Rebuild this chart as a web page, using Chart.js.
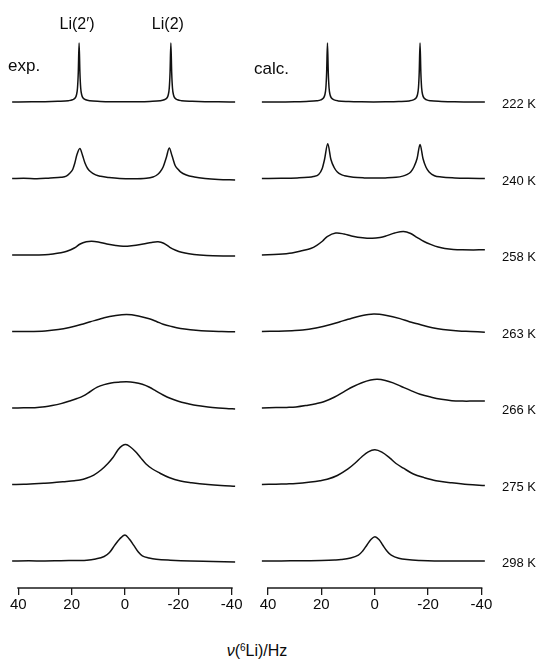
<!DOCTYPE html>
<html><head><meta charset="utf-8">
<script src="https://cdn.jsdelivr.net/npm/chart.js@4.4.0/dist/chart.umd.min.js"></script>
<style>
html,body{margin:0;padding:0;background:#fff;}
#wrap{position:relative;width:541px;height:665px;overflow:hidden;font-family:"Liberation Sans",Arial,sans-serif;color:#0a0a0a;}
canvas{position:absolute;top:0;}
.lbl{position:absolute;white-space:nowrap;line-height:1;}
</style></head><body>
<div id="wrap">
<canvas id="cL" width="250" height="625" style="left:0px"></canvas>
<canvas id="cR" width="291" height="625" style="left:250px"></canvas>
</div>
<script>
// ---- data: [frequency in Hz, intensity (arb. units)] ----
const temperatures = ['222 K','240 K','258 K','263 K','266 K','275 K','298 K'];
const tickValues = [40, 20, 0, -20, -40];
const panelTitles = ['exp.', 'calc.'];
const peakLabels = ['Li(2\u2032)', 'Li(2)'];

const exp222 = [[42.3,0],[35,0.2],[30,0.3],[25.2,0.7],[21.2,1.3],[19.7,2.2],[18.7,4],[18.2,7],[17.8,14],[17.5,30],[17.2,59],[16.9,30],[16.6,14],[16.2,7],[15.7,4],[14.7,2.2],[13.2,1.2],[9.2,0.6],[5,0.3],[0,0.2],[-5,0.3],[-9.2,0.6],[-13.2,1.2],[-14.7,2.2],[-15.7,4],[-16.2,7],[-16.6,14],[-16.9,30],[-17.2,59],[-17.5,30],[-17.8,14],[-18.2,7],[-18.7,4],[-19.7,2.2],[-21.2,1.3],[-25.2,0.7],[-30,0.3],[-35,0.2],[-41.3,0]];
const exp240 = [[42.3,0],[38,0.3],[33,-0.2],[28,0.6],[24,1.2],[22,2.4],[20.8,5],[19.6,9],[18.8,15.5],[18,24],[16.9,30],[15.9,23],[15,15.5],[14,10],[13,7],[11,3.6],[9.1,2.2],[6,1],[2,0],[-3,-0.3],[-8,0.2],[-10.5,1.5],[-11.7,3],[-13,6],[-14.3,11.5],[-15.5,21],[-16.6,30.5],[-17.6,23],[-18.8,13],[-19.8,9.5],[-20.8,6.6],[-23,3.5],[-26,1.5],[-30,0],[-35,-1],[-41.3,-1.5]];
const exp258 = [[42.3,0],[36,0],[30,0.3],[27,1],[24,2.2],[21.8,3.7],[19,7],[16.8,11],[14.5,13.2],[12.5,13.8],[10,13],[6.8,11],[3.5,9.5],[0.7,8.8],[-2.5,9.3],[-6.8,11],[-10,12.6],[-12.4,13.2],[-14.5,11.8],[-16.8,7.7],[-19,4.8],[-21.2,2.7],[-24,1.2],[-28,0],[-33,-0.8],[-41.3,-1]];
const exp263 = [[42.3,0],[36,0],[29.9,0.6],[25,2],[20.8,4.1],[16.5,7],[13,9.8],[10,12],[7.8,13.8],[4,15.8],[-0.6,17],[-5,15.6],[-9.1,12.8],[-12,9.8],[-14.3,7.3],[-17.5,5],[-20.8,3.1],[-24.5,1.8],[-28.6,0.8],[-33,0.2],[-36.3,0],[-41.3,-0.3]];
const exp266 = [[42.3,0],[38,0.2],[33.8,0.3],[30,1.2],[27.3,2.4],[24,4.4],[20.8,7],[18,9.5],[15.6,12.2],[13,16.5],[10.4,20.8],[7.8,23.4],[5.2,25],[2.3,25.8],[-0.6,26.2],[-3.5,25.6],[-6.5,23.8],[-9,21],[-11.7,16.9],[-14.3,13],[-16.9,9.7],[-20,6.8],[-23.4,4.5],[-27,2.4],[-31.1,1],[-35,0],[-38,-0.6],[-41.3,-1]];
const exp275 = [[42.3,0],[38,0.3],[34,0.8],[30.5,1.2],[27.3,1.7],[22,3],[19,3.8],[16.9,4.5],[14.5,6.2],[11.7,9.4],[9,14.5],[6.5,20.8],[4.5,27],[2.6,34.7],[1,38.8],[-0.3,40],[-1.8,38],[-3.9,33],[-5.8,27],[-7.8,20.8],[-10.3,15.5],[-13,11.5],[-16.5,7],[-20.8,3.5],[-25,1.8],[-31.1,0],[-36,-1],[-41.3,-1.7]];
const exp298 = [[42.3,0],[36,0.2],[30,0],[24,0.3],[18,0.5],[14.3,0.7],[11,2],[7.8,4.5],[5.8,8.5],[3.9,15.6],[2,22],[0,26],[-1.6,22],[-3.3,15.6],[-5,9],[-6.5,5.2],[-9,3],[-11.7,1.7],[-17,0.8],[-24.7,0],[-33,-0.4],[-41.3,-1]];

const calc222 = [[42.3,0],[35,0.1],[30,0.2],[25.7,0.6],[21.7,1.2],[20.2,2.1],[19.2,4],[18.7,7],[18.3,14],[18,30],[17.7,59],[17.4,30],[17.1,14],[16.7,7],[16.2,4],[15.2,2.1],[13.7,1.1],[9.7,0.5],[5,0.2],[0.4,0.1],[-4,0.2],[-9,0.5],[-13,1.1],[-14.5,2.1],[-15.5,4],[-16,7],[-16.4,14],[-16.7,30],[-17,59],[-17.3,30],[-17.6,14],[-18,7],[-18.5,4],[-19.5,2.1],[-21,1.2],[-25,0.6],[-30,0.2],[-35,0.1],[-41.3,0]];
const calc240 = [[42.3,0],[35,0.2],[29,0.6],[25,1.2],[23,2],[21,4],[19.7,9.7],[18.8,19],[17.6,34.7],[16.4,19],[15.2,11],[14,6.5],[12.5,3.8],[11.3,2.8],[8,1.3],[4,0.6],[0.3,0.4],[-4,0.6],[-8,1.2],[-10.5,2.4],[-12,3.8],[-13.5,6.5],[-14.7,11.5],[-15.9,20],[-17,34],[-18.1,20],[-19.2,11.5],[-20.4,6.5],[-22.4,2.8],[-25,1.5],[-30,0.6],[-35,0.2],[-41.3,0]];
const calc258 = [[42.3,0],[36,0.7],[31,2],[26.9,4.5],[24,6.5],[21.7,9.7],[19.5,14],[17.8,18.4],[14.6,21.9],[11.5,21],[8.7,19.1],[4.5,17.2],[0.9,16.7],[-2,17.5],[-4.3,19.1],[-7.5,22],[-10.8,23.6],[-13.5,21.5],[-16,17.4],[-18.5,13.5],[-21.2,10.4],[-23.8,8],[-26.3,6.6],[-29.5,5.6],[-32.8,5.2],[-37,5.1],[-41.3,5.2]];
const calc263 = [[42.3,0],[36,0.3],[31,0.8],[27,1.4],[22,3.6],[16.5,7],[13,9.8],[10,12.2],[5,15.8],[0.3,17.4],[-4.5,16],[-9.5,12.9],[-13,9.8],[-16,7.7],[-20,4.7],[-23.7,2.8],[-27.5,1.4],[-31.5,0.5],[-36,0],[-41.3,-0.7]];
const calc266 = [[42.3,0],[37,0.4],[33,0.6],[29.5,1],[25,2.8],[22,4.3],[19.1,6.2],[15,11],[11.3,16.7],[8,21.5],[4.8,25.3],[1.5,28],[-1,28.8],[-4,27.6],[-6.9,25.1],[-10,21.5],[-13.4,17.6],[-17,13.8],[-21.2,10.8],[-25,8.7],[-28.9,7.3],[-33,6.9],[-37,6.9],[-41.3,6.9]];
const calc275 = [[42.3,0],[37,0.3],[33,0.6],[29.5,1],[24,2.5],[20.5,3.8],[17.8,5.2],[14,9],[10,15.6],[7.3,21.5],[4.8,27.8],[2.4,32.7],[-0.1,34.7],[-2.7,32.3],[-5.6,26.7],[-8,21],[-10.8,16.3],[-14.5,10.5],[-18.5,6.9],[-23,3.8],[-28.9,1.7],[-35,0],[-41.3,-1]];
const calc298 = [[42.3,0],[35,0.1],[28,0.2],[20,0.6],[15,1],[12.6,1.4],[9,3],[6.1,5.9],[4.5,10],[2.9,16],[1.4,21.5],[-0.1,24.3],[-1.6,21.5],[-3,16],[-4.6,10],[-6.2,5.9],[-9,2.8],[-12.1,1.4],[-17,0.5],[-22.4,0],[-30,0],[-41.3,0]];

const expSpectra = [exp222, exp240, exp258, exp263, exp266, exp275, exp298];
const calcSpectra = [calc222, calc240, calc258, calc263, calc266, calc275, calc298];

// ---- layout / style ----
const ROW_STEP = 76.5;
const LINE = '#111';
Chart.defaults.font.family = '"Liberation Sans", Arial, sans-serif';

function rowBase(i, n) { return (n - 1 - i) * ROW_STEP; }

function makeDatasets(list) {
  return list.map((pts, i) => {
    const sharp = i < 2;
    return {
      data: pts.map(p => ({ x: p[0], y: p[1] + rowBase(i, list.length) })),
      borderColor: LINE, borderWidth: 1.5, pointRadius: 0,
      cubicInterpolationMode: sharp ? 'monotone' : 'default',
      tension: sharp ? 0 : 0.35,
      fill: false
    };
  });
}

const axisLine = {
  id: 'axisLine',
  afterDatasetsDraw(chart) {
    const s = chart.scales.x, c = chart.ctx, y = chart.chartArea.bottom;
    c.save();
    c.strokeStyle = '#1a1a1a'; c.lineWidth = 1.4;
    c.beginPath();
    c.moveTo(s.getPixelForValue(tickValues[0]) - 1, y);
    c.lineTo(s.getPixelForValue(tickValues[tickValues.length - 1]) + 1, y);
    c.stroke();
    c.restore();
  }
};

function makeChart(id, list, padL, padR) {
  return new Chart(document.getElementById(id), {
    type: 'line',
    data: { datasets: makeDatasets(list) },
    options: {
      responsive: false, animation: false, devicePixelRatio: 1,
      layout: { padding: { left: padL, right: padR, top: 0, bottom: 0 } },
      plugins: { legend: { display: false }, tooltip: { enabled: false } },
      scales: {
        x: {
          type: 'linear', reverse: true, min: -41.5, max: 42.5,
          afterBuildTicks: s => { s.ticks = tickValues.map(v => ({ value: v })); },
          afterFit: s => { s.height = 37; },
          border: { display: false },
          grid: { display: true, drawOnChartArea: false, drawTicks: true, tickLength: 7, color: '#1a1a1a', lineWidth: 1.3 },
          ticks: { font: { size: 15 }, color: '#0a0a0a', padding: 1, maxRotation: 0, autoSkip: false }
        },
        y: { type: 'linear', display: false, min: -27, max: 561 }
      }
    },
    plugins: [axisLine]
  });
}

const chartL = makeChart('cL', expSpectra, 11.6, 14.3);
const chartR = makeChart('cR', calcSpectra, 11.3, 55.6);

// ---- text labels ----
const wrap = document.getElementById('wrap');
function addLabel(html, left, top, size, tx, ty) {
  const d = document.createElement('div');
  d.className = 'lbl';
  d.innerHTML = html;
  d.style.left = left + 'px';
  d.style.top = top + 'px';
  d.style.fontSize = size + 'px';
  d.style.transform = 'translate(' + tx + ',' + ty + ')';
  wrap.appendChild(d);
  return d;
}
const yR = chartR.scales.y;
temperatures.forEach((t, i) => {
  addLabel(t, 502, yR.getPixelForValue(rowBase(i, temperatures.length)) + 1, 13, '0', '-50%');
});
addLabel(panelTitles[0], 8, 65, 17, '0', '-50%');
addLabel(panelTitles[1], 254, 68, 17, '0', '-50%');
const xL = chartL.scales.x;
function peakHz(pts, sign) {
  return pts.filter(p => p[0] * sign > 0).reduce((a, b) => (b[1] > a[1] ? b : a))[0];
}
addLabel(peakLabels[0], xL.getPixelForValue(peakHz(exp222, 1)) - 2, 24, 16, '-50%', '-50%');
addLabel(peakLabels[1], xL.getPixelForValue(peakHz(exp222, -1)) - 3, 24, 16, '-50%', '-50%');
addLabel('<i>\u03BD</i>(<sup style="font-size:10px;vertical-align:5px">6</sup>Li)/Hz', 257, 651, 16, '-50%', '-50%');
</script>
</body></html>
